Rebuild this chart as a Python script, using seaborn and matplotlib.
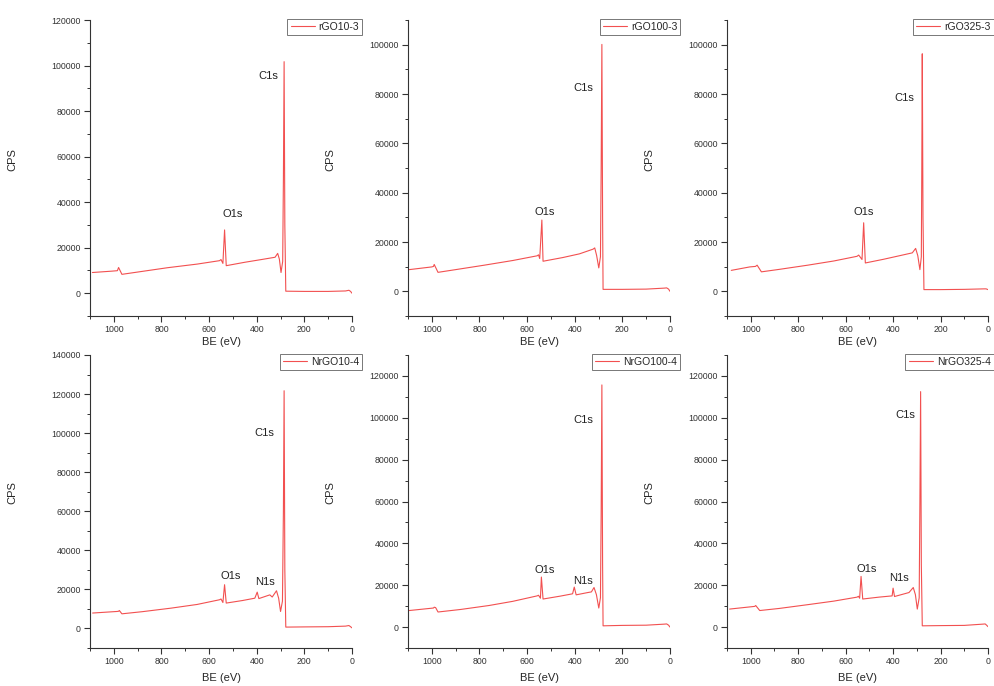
import numpy as np
import pandas as pd
import matplotlib
matplotlib.use("Agg")
import matplotlib.pyplot as plt
from matplotlib.ticker import MultipleLocator
import seaborn as sns

# ---------------- data ----------------
names = ["rGO10-3", "rGO100-3", "rGO325-3", "NrGO10-4", "NrGO100-4", "NrGO325-4"]

be_rgo10 = [1090, 1008, 985, 980, 966, 900, 775, 650, 556, 550, 542, 535, 528, 450, 380, 323, 312, 305, 298, 291, 288, 285, 282, 278, 200, 100, 27, 13, 6, 0]
cps_rgo10 = [9100, 9700, 9900, 11300, 8300, 9300, 11200, 12800, 14300, 14800, 13100, 27800, 12100, 13600, 14800, 15800, 17500, 15000, 9100, 14000, 50000, 101700, 30000, 900, 800, 800, 1000, 1300, 800, 0]

be_rgo100 = [1095, 1000, 993, 990, 974, 900, 780, 660, 558, 552, 547, 538, 533, 450, 380, 323, 316, 308, 299, 292, 289, 286, 283, 281, 200, 100, 24, 14, 6, 0]
cps_rgo100 = [8800, 9900, 10100, 10900, 7700, 8800, 10600, 12500, 14400, 14800, 13300, 28900, 12200, 13700, 15200, 17100, 17600, 14500, 9500, 14000, 50000, 100100, 30000, 800, 800, 900, 1300, 1400, 900, 0]

be_rgo325 = [1082, 1004, 980, 973, 955, 880, 760, 650, 552, 545, 531, 524, 517, 440, 370, 319, 305, 296, 287, 281, 279, 277, 274, 270, 200, 100, 16, 8, 0]
cps_rgo325 = [8500, 9900, 10100, 10600, 7900, 8900, 10600, 12300, 14200, 14700, 12900, 27800, 11500, 13000, 14500, 15600, 17400, 14500, 8800, 14000, 50000, 96300, 30000, 700, 700, 800, 1000, 1000, 700]

be_nrgo10 = [1089, 987, 980, 977, 966, 880, 760, 650, 556, 550, 542, 535, 528, 460, 408, 398, 391, 345, 335, 317, 308, 300, 292, 288, 285, 282, 278, 200, 100, 27, 13, 6, 0]
cps_nrgo10 = [7900, 8700, 8800, 9200, 7500, 8600, 10400, 12300, 14700, 15100, 13300, 22400, 13000, 14300, 15500, 18600, 15300, 17200, 16100, 19300, 15500, 8700, 14000, 60000, 121700, 30000, 700, 800, 900, 1200, 1500, 900, 300]

be_nrgo100 = [1095, 993, 990, 984, 974, 880, 760, 660, 558, 552, 544, 540, 533, 460, 409, 402, 394, 345, 330, 319, 309, 299, 292, 289, 286, 283, 281, 200, 100, 24, 14, 6, 0]
cps_nrgo100 = [7900, 9100, 9500, 9300, 7200, 8400, 10300, 12300, 14900, 15200, 13800, 23900, 13400, 14800, 15900, 19100, 15400, 16500, 16800, 18900, 15500, 9100, 14000, 55000, 115700, 30000, 600, 800, 900, 1400, 1500, 900, 0]

be_nrgo325 = [1089, 990, 983, 979, 962, 880, 760, 650, 552, 546, 541, 535, 528, 460, 404, 400, 394, 333, 315, 306, 298, 290, 287, 284, 281, 277, 200, 100, 22, 12, 6, 0]
cps_nrgo325 = [8600, 9800, 9900, 10300, 7900, 8900, 10700, 12400, 14300, 14700, 13800, 24200, 13400, 14300, 14900, 18600, 14600, 16500, 18900, 15500, 8600, 14000, 60000, 112500, 30000, 600, 700, 800, 1400, 1500, 900, 200]

series_be = [be_rgo10, be_rgo100, be_rgo325, be_nrgo10, be_nrgo100, be_nrgo325]
series_cps = [cps_rgo10, cps_rgo100, cps_rgo325, cps_nrgo10, cps_nrgo100, cps_nrgo325]

y_top = [120000, 110000, 110000, 140000, 130000, 130000]

# peak label positions (BE, CPS) per panel
c1s_pos = [(352, 95400), (363, 82600), (352, 78500), (369, 100100), (363, 99000), (347, 101400)]
o1s_pos = [(500, 34900), (526, 32100), (525, 32100), (508, 26900), (526, 27400), (513, 27800)]
n1s_pos = [None, None, None, (364, 23900), (367, 22200), (377, 23600)]

# ---------------- style ----------------
sns.set_theme(style="ticks")
plt.rcParams["font.family"] = ["Liberation Sans", "DejaVu Sans"]
plt.rcParams["axes.edgecolor"] = "#333333"
plt.rcParams["axes.linewidth"] = 0.8
plt.rcParams["xtick.color"] = "#333333"
plt.rcParams["ytick.color"] = "#333333"

line_color = "#f25050"

fig = plt.figure(figsize=(9.95, 6.86), dpi=100)
W, H = 995.0, 686.0

col_left = [90, 408, 727]
col_width = [262, 262, 261]
row_top = [20, 355]
row_bottom = [316, 648]
legend_dx = [1.04, 1.04, 1.022]
xlabel_off = [21, 25]

for i, name in enumerate(names):
    r, c = divmod(i, 3)
    left = col_left[c] / W
    width = col_width[c] / W
    bottom = 1 - row_bottom[r] / H
    height = (row_bottom[r] - row_top[r]) / H
    ax = fig.add_axes([left, bottom, width, height])

    df = pd.DataFrame({"BE": series_be[i], "CPS": series_cps[i]})
    sns.lineplot(data=df, x="BE", y="CPS", ax=ax, color=line_color, lw=0.8,
                 sort=False, estimator=None, label=name)

    ax.set_xlim(1100, 0)
    ax.set_ylim(-10000, y_top[i])
    ax.xaxis.set_major_locator(MultipleLocator(200))
    ax.xaxis.set_minor_locator(MultipleLocator(100))
    ax.yaxis.set_major_locator(MultipleLocator(20000))
    ax.yaxis.set_minor_locator(MultipleLocator(10000))
    ax.tick_params(axis="both", which="major", direction="out", length=4, width=0.8,
                   labelsize=6.3, pad=2.5)
    ax.tick_params(axis="both", which="minor", direction="out", length=2.5, width=0.7)
    for s in ["top", "right"]:
        ax.spines[s].set_visible(False)

    ax.set_xlabel("BE (eV)", fontsize=8)
    ax.set_ylabel("CPS", fontsize=8)
    ax.yaxis.set_label_coords(-73 / col_width[c], 0.53)
    ax.xaxis.set_label_coords(0.5, -xlabel_off[r] / (row_bottom[r] - row_top[r]))

    ax.text(*c1s_pos[i], "C1s", fontsize=8, ha="center", va="center", color="#222222")
    ax.text(*o1s_pos[i], "O1s", fontsize=8, ha="center", va="center", color="#222222")
    if n1s_pos[i] is not None:
        ax.text(*n1s_pos[i], "N1s", fontsize=8, ha="center", va="center", color="#222222")

    leg = ax.legend(loc="upper right", bbox_to_anchor=(legend_dx[c], 1.005), borderaxespad=0,
                    fontsize=7.5, frameon=True, fancybox=False, framealpha=1,
                    handlelength=2.3, handletextpad=0.4, borderpad=0.3)
    leg.get_frame().set_edgecolor("#777777")
    leg.get_frame().set_linewidth(0.7)

fig.savefig("out.png", dpi=100, facecolor="white")
